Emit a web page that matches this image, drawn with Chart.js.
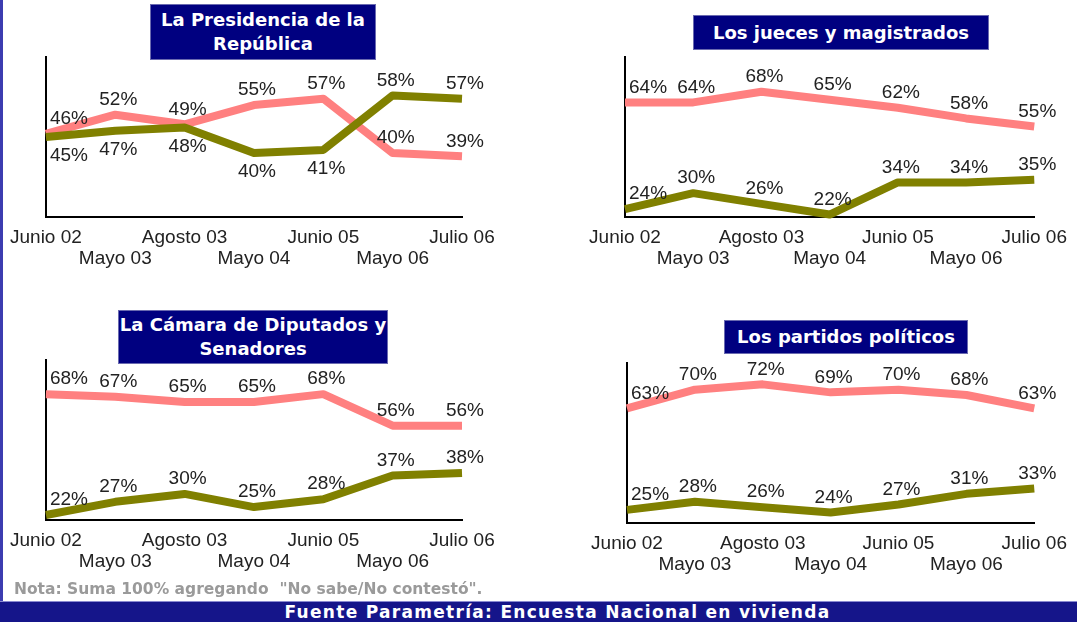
<!DOCTYPE html>
<html>
<head>
<meta charset="utf-8">
<script src="https://cdn.jsdelivr.net/npm/chart.js@4.4.1/dist/chart.umd.min.js"></script>
<style>
    html, body { margin: 0; padding: 0; background: #fff; }
    #page { position: relative; width: 1077px; height: 622px; overflow: hidden; background: #fff; }
    #borde { position: absolute; left: 0; top: 0; width: 3px; height: 602px; background: #3c3cb0; }
    canvas { position: absolute; }
    .titulo {
        position: absolute; background: #000080; border: 1px solid #6a6ab0;
        color: #fff; font: bold 18px "DejaVu Sans", Verdana, sans-serif;
        text-align: center; line-height: 24px; box-sizing: border-box;
        overflow: hidden; white-space: nowrap; z-index: 2;
        display: flex; flex-direction: column; justify-content: center;
    }
    #nota { position: absolute; left: 14px; top: 580px; color: #9a9a9a;
        font: bold 15.5px "DejaVu Sans", Verdana, sans-serif; white-space: pre; }
    #fuente { position: absolute; left: 0; top: 601px; width: 1077px; height: 21px;
        background: #15158a; border-top: 1px solid #8a8ad0; box-sizing: border-box;
        color: #fff; font: bold 17px "DejaVu Sans", Verdana, sans-serif; padding-left: 38px;
        text-align: center; line-height: 20px; letter-spacing: 1.3px; }
</style>
</head>
<body>
<div id="page">
    <div id="borde"></div>

    <div class="titulo" style="left:150px; top:4px; width:226px; height:56px;">
        <div>La Presidencia de la</div><div>República</div>
    </div>
    <div class="titulo" style="left:693px; top:15px; width:296px; height:35px;">
        <div>Los jueces y magistrados</div>
    </div>
    <div class="titulo" style="left:118px; top:310px; width:270px; height:54px;">
        <div>La Cámara de Diputados y</div><div>Senadores</div>
    </div>
    <div class="titulo" style="left:724px; top:320px; width:244px; height:34px;">
        <div>Los partidos políticos</div>
    </div>

    <canvas id="presidencia" width="540" height="240" style="left:0; top:40px;"></canvas>
    <canvas id="jueces" width="517" height="240" style="left:560px; top:40px;"></canvas>
    <canvas id="camara" width="540" height="240" style="left:0; top:343px;"></canvas>
    <canvas id="partidos" width="517" height="240" style="left:560px; top:346px;"></canvas>

    <div id="nota">Nota: Suma 100% agregando  "No sabe/No contestó".</div>
    <div id="fuente">Fuente Parametría: Encuesta Nacional en vivienda</div>
</div>

<script>
// Fechas de levantamiento (eje x)
const fechas = ['Junio 02', 'Mayo 03', 'Agosto 03', 'Mayo 04', 'Junio 05', 'Mayo 06', 'Julio 06'];

// Línea rosa y línea verde olivo de cada institución
const presidenciaRosa = [46, 52, 49, 55, 57, 40, 39];
const presidenciaOlivo = [45, 47, 48, 40, 41, 58, 57];

const juecesRosa = [64, 64, 68, 65, 62, 58, 55];
const juecesOlivo = [24, 30, 26, 22, 34, 34, 35];

const camaraRosa = [68, 67, 65, 65, 68, 56, 56];
const camaraOlivo = [22, 27, 30, 25, 28, 37, 38];

const partidosRosa = [63, 70, 72, 69, 70, 68, 63];
const partidosOlivo = [25, 28, 26, 24, 27, 31, 33];

const ROSA = '#ff8080';
const OLIVO = '#808000';
const fuenteTexto = '"Liberation Sans", Arial, sans-serif';

// Dibuja las etiquetas de porcentaje sobre (o bajo) cada punto
const etiquetas = {
    id: 'etiquetas',
    afterDatasetsDraw(chart) {
        const ctx = chart.ctx;
        ctx.save();
        ctx.font = '19px ' + fuenteTexto;
        ctx.fillStyle = '#222';
        ctx.textBaseline = 'middle';
        chart.data.datasets.forEach((ds, di) => {
            const meta = chart.getDatasetMeta(di);
            meta.data.forEach((pt, i) => {
                const abajo = ds.abajo && ds.abajo.includes(i);
                const y = abajo ? pt.y + 19 : pt.y - 15;
                if (i === 0) {
                    ctx.textAlign = 'left';
                    ctx.fillText(ds.data[i] + '%', pt.x + 4, y);
                } else {
                    ctx.textAlign = 'center';
                    ctx.fillText(ds.data[i] + '%', pt.x + 3, y);
                }
            });
        });
        ctx.restore();
    }
};

function crearGrafica(id, rosa, olivo, min, max, padding, abajoOlivo) {
    const el = document.getElementById(id);
    return new Chart(el, {
        type: 'line',
        data: {
            labels: fechas,
            datasets: [
                {
                    label: 'olivo',
                    data: olivo,
                    borderColor: OLIVO,
                    borderWidth: 8,
                    pointRadius: 0,
                    tension: 0,
                    borderJoinStyle: 'round',
                    clip: false,
                    abajo: abajoOlivo || []
                },
                {
                    label: 'rosa',
                    data: rosa,
                    borderColor: ROSA,
                    borderWidth: 8,
                    pointRadius: 0,
                    tension: 0,
                    borderJoinStyle: 'round',
                    clip: false
                }
            ]
        },
        options: {
            responsive: false,
            animation: false,
            layout: { padding: padding },
            plugins: {
                legend: { display: false },
                tooltip: { enabled: false }
            },
            scales: {
                x: {
                    offset: false,
                    grid: { display: false, drawTicks: false },
                    border: { display: true, color: '#000', width: 2 },
                    ticks: {
                        autoSkip: false,
                        maxRotation: 0,
                        padding: 10,
                        color: '#222',
                        font: { family: fuenteTexto, size: 19, lineHeight: 1.1 },
                        callback: (v, i) => i % 2 === 0 ? [fechas[i], ''] : ['', fechas[i]]
                    }
                },
                y: {
                    min: min,
                    max: max,
                    grid: { display: false, drawTicks: false },
                    border: { display: true, color: '#000', width: 2 },
                    ticks: { display: false }
                }
            }
        },
        plugins: [etiquetas]
    });
}

crearGrafica('presidencia', presidenciaRosa, presidenciaOlivo, 20, 70,
    { left: 43, right: 78, top: 17, bottom: 1 }, [0, 1, 2, 3, 4]);
crearGrafica('jueces', juecesRosa, juecesOlivo, 21, 81,
    { left: 65, right: 35, top: 17, bottom: 1 });
crearGrafica('camara', camaraRosa, camaraOlivo, 20, 81,
    { left: 43, right: 78, top: 17, bottom: 1 });
crearGrafica('partidos', partidosRosa, partidosOlivo, 20, 80,
    { left: 67, right: 34, top: 17, bottom: 1 });
</script>
</body>
</html>
